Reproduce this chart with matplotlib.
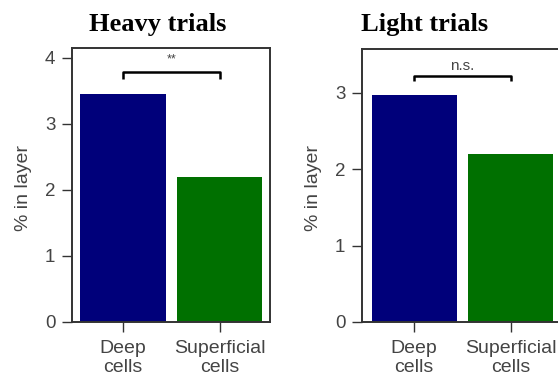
import matplotlib
matplotlib.use("Agg")
from matplotlib import pyplot as plt

# Percentage of cells in each layer
categories = ["Deep\ncells", "Superficial\ncells"]
heavy_pct = [3.45, 2.19]
light_pct = [2.97, 2.195]
heavy_sig = "**"
light_sig = "n.s."

bar_colors = ["#00007a", "#007000"]
frame_color = "#333333"
text_color = "#444444"

plt.rcParams['font.family'] = ['Liberation Sans', 'DejaVu Sans']

fig = plt.figure(figsize=(5.58, 3.79), dpi=100)


def draw_panel(ax, values, ymax, yticks, xlim, sig, bracket_y, leg, sig_y, sig_size):
    x = range(len(values))
    ax.bar(x, values, width=0.88, color=bar_colors)
    ax.set_xlim(*xlim)
    ax.set_ylim(0, ymax)
    ax.set_yticks(yticks)
    ax.set_xticks(list(x))
    ax.set_xticklabels(categories, linespacing=1.15)
    ax.tick_params(axis='both', direction='out', length=7, width=1,
                   color=frame_color, labelsize=14, labelcolor=text_color, pad=5)
    ax.tick_params(axis='x', pad=6)
    ax.tick_params(axis='y', labelsize=13.5)
    for s in ax.spines.values():
        s.set_color(frame_color)
        s.set_linewidth(1.4)
    ax.set_ylabel("% in layer", fontsize=14, color=text_color)
    ax.yaxis.set_label_coords(-0.20, 0.49)

    # significance bracket between the two bars
    ax.plot([0, 0, 1, 1], [bracket_y - leg, bracket_y, bracket_y, bracket_y - leg],
            color='black', lw=1.8, solid_capstyle='butt')
    ax.text(0.5, sig_y, sig, ha='center', va='center', fontsize=sig_size, color=text_color)


ax1 = fig.add_axes([72 / 558, 57 / 379, 198 / 558, 274 / 379])
draw_panel(ax1, heavy_pct, 4.15, [0, 1, 2, 3, 4], (-0.526, 1.518),
           heavy_sig, 3.79, 0.11, 3.97, 9)

ax2 = fig.add_axes([362 / 558, 57 / 379, 198 / 558, 273 / 379])
draw_panel(ax2, light_pct, 3.57, [0, 1, 2, 3], (-0.542, 1.514),
           light_sig, 3.22, 0.07, 3.35, 11)

fig.text(158 / 558, 1 - 25 / 379, "Heavy trials", ha='center', va='center',
         family='Liberation Serif', fontweight='bold', fontsize=19)
fig.text(425 / 558, 1 - 25 / 379, "Light trials", ha='center', va='center',
         family='Liberation Serif', fontweight='bold', fontsize=19)

fig.savefig("out.png", dpi=100)
